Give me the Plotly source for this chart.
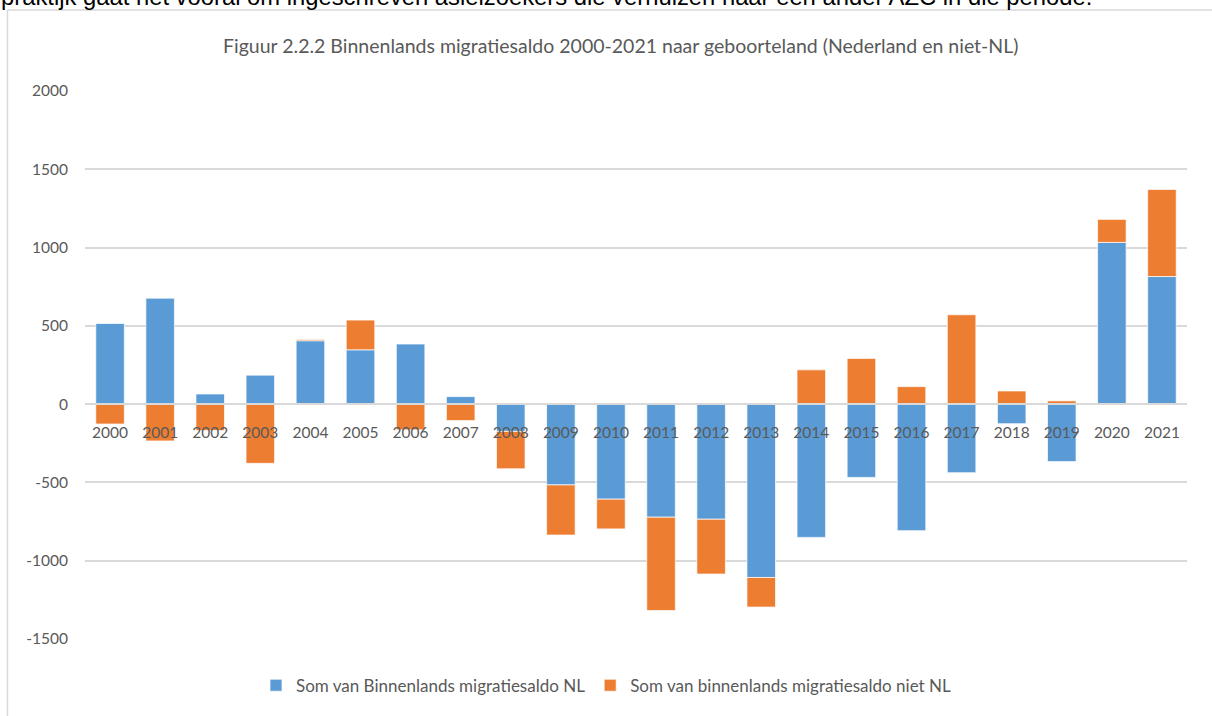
import plotly.graph_objects as go

years = [str(y) for y in range(2000, 2022)]
nl = [515, 677, 65, 185, 405, 347, 384, 48, -174, -516, -607, -722, -735, -1107,
      -851, -468, -808, -438, -125, -367, 1033, 815]
niet_nl = [-127, -235, -168, -378, 8, 190, -164, -105, -239, -320, -190, -596, -350, -189,
           219, 292, 112, 571, 84, 21, 147, 556]
y_ticks = [-1500, -1000, -500, 0, 500, 1000, 1500, 2000]
y_tick_labels = ["-1500", "-1000", "-500", "0", "500", "1000", "1500", "2000"]

name_nl = "Som van Binnenlands migratiesaldo NL"
name_niet = "Som van binnenlands migratiesaldo niet NL"
title_text = "Figuur 2.2.2 Binnenlands migratiesaldo 2000-2021 naar geboorteland (Nederland en niet-NL)"
top_text = "praktijk gaat het vooral om ingeschreven asielzoekers die verhuizen naar een ander AZC in die periode."

FONT = "Lato"
GRAY = "#595959"
GRID = "#D9D9D9"

W, H = 1212, 716
L, R, T, B = 85, 25, 91, 73
PW, PH = W - L - R, H - T - B

def px(x):
    return (x - L) / PW

def py(y):
    return (H - B - y) / PH

fig = go.Figure()
fig.add_trace(go.Bar(x=years, y=nl, name=name_nl,
                     marker=dict(color="#5B9BD5", line=dict(color="rgba(255,255,255,0.7)", width=1))))
fig.add_trace(go.Bar(x=years, y=niet_nl, name=name_niet,
                     marker=dict(color="#ED7D31", line=dict(color="rgba(255,255,255,0.7)", width=1))))

ymin, ymax = -1500, 2000
fig.update_layout(
    width=W, height=H,
    margin=dict(l=L, r=R, t=T, b=B),
    barmode="relative",
    bargap=0.43,
    plot_bgcolor="white",
    paper_bgcolor="white",
    font=dict(family=FONT, color=GRAY, size=15),
    xaxis=dict(type="category", anchor="free", position=(0 - ymin) / (ymax - ymin),
               showline=True, linecolor=GRID, linewidth=1.5, ticks="",
               showgrid=False, tickfont=dict(family=FONT, size=15.5, color=GRAY),
               ticklabelstandoff=15),
    yaxis=dict(range=[ymin, ymax], tickvals=y_ticks, ticktext=y_tick_labels,
               showgrid=True, gridcolor=GRID, gridwidth=1.5,
               zeroline=False, showline=False, ticks="",
               tickfont=dict(family=FONT, size=15.5, color=GRAY), ticklabelstandoff=16),
    legend=dict(orientation="h", x=px(606), xanchor="center", y=py(690), yanchor="middle",
                font=dict(family=FONT, size=17, color=GRAY), traceorder="normal"),
    showlegend=True,
)

fig.add_annotation(text=title_text, xref="paper", yref="paper", x=px(620), y=py(45),
                   xanchor="center", yanchor="middle", showarrow=False,
                   font=dict(family=FONT, size=19.5, color=GRAY))

fig.add_annotation(text=top_text, xref="paper", yref="paper", x=px(-1), y=py(11),
                   xanchor="left", yanchor="bottom", showarrow=False,
                   font=dict(family="Liberation Sans", size=23.8, color="black"))

# chart frame (left and top edges visible)
fig.add_shape(type="line", xref="paper", yref="paper", x0=px(7.5), x1=px(1230), y0=py(9.5), y1=py(9.5),
              line=dict(color=GRID, width=1.5))
fig.add_shape(type="line", xref="paper", yref="paper", x0=px(7.5), x1=px(7.5), y0=py(9.5), y1=py(740),
              line=dict(color=GRID, width=1.5))

fig.write_html("out.html", config={"displayModeBar": False},
               post_script="document.body.style.margin='0';document.body.style.overflow='hidden';")
